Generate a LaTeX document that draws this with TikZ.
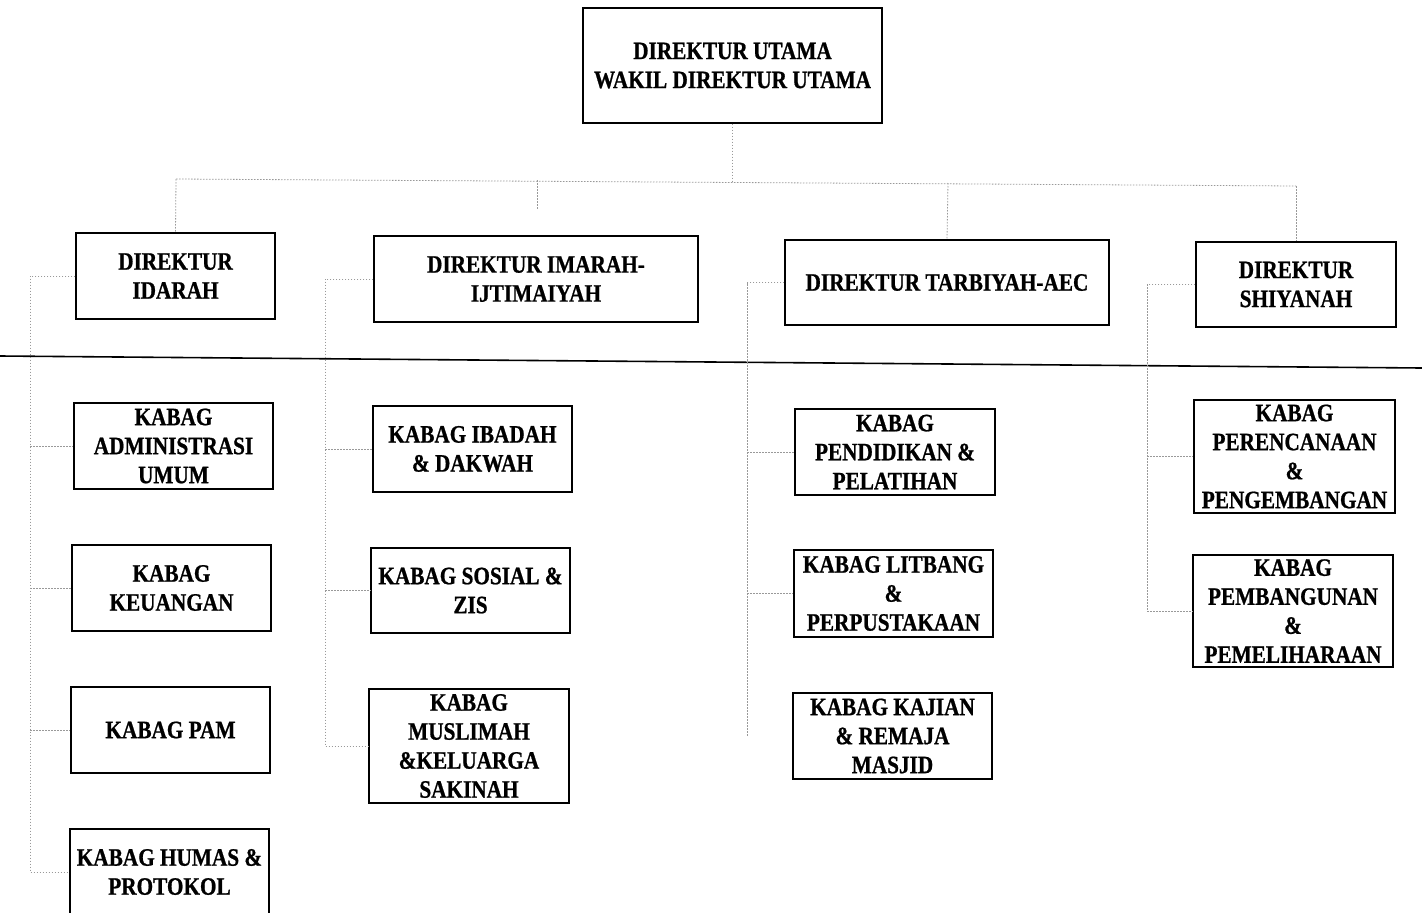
\documentclass[tikz,border=0pt]{standalone}
\usepackage{fontspec}
\newfontfamily\orgfont{Liberation Serif Bold}[FakeStretch=0.85, FakeBold=0.8]
\begin{document}
\begin{tikzpicture}[x=1pt,y=-1pt,
  box/.style={draw, line width=1.4pt, align=center, inner sep=0pt,
    font=\orgfont\fontsize{25}{29}\selectfont},
  conn/.style={draw=black!40, line width=0.8pt, dash pattern=on 1.5pt off 1.5pt},
  rule/.style={draw=black, line width=1.6pt}]
\useasboundingbox (0,0) rectangle (1422,913);
\fill[white] (0,0) rectangle (1422,913);

% top
\node[box, minimum width=299pt, minimum height=115pt] (top) at (732.5,65.5) {DIREKTUR UTAMA\\WAKIL DIREKTUR UTAMA};
% directors
\node[box, minimum width=199pt, minimum height=86pt] (idarah) at (175.5,276) {DIREKTUR\\IDARAH};
\node[box, minimum width=324pt, minimum height=86pt] (imarah) at (536,279) {DIREKTUR IMARAH-\\IJTIMAIYAH};
\node[box, minimum width=324pt, minimum height=85pt] (tarbiyah) at (947,282.5) {DIREKTUR TARBIYAH-AEC};
\node[box, minimum width=200pt, minimum height=85pt] (shiyanah) at (1296,284.5) {DIREKTUR\\SHIYANAH};
% column 1
\node[box, minimum width=199pt, minimum height=86pt] (adm) at (173.5,446) {KABAG\\ADMINISTRASI\\UMUM};
\node[box, minimum width=199pt, minimum height=86pt] (keu) at (171.5,588) {KABAG\\KEUANGAN};
\node[box, minimum width=199pt, minimum height=86pt] (pam) at (170.5,730) {KABAG PAM};
\node[box, minimum width=199pt, minimum height=86pt] (humas) at (169.5,872) {KABAG HUMAS \&\\PROTOKOL};
% column 2
\node[box, minimum width=199pt, minimum height=86pt] (ibadah) at (472.5,449) {KABAG IBADAH\\\& DAKWAH};
\node[box, minimum width=199pt, minimum height=85pt] (sosial) at (470.5,590.5) {KABAG SOSIAL \&\\ZIS};
\node[box, minimum width=200pt, minimum height=114pt] (muslimah) at (469,746) {KABAG\\MUSLIMAH\\\&KELUARGA\\SAKINAH};
% column 3
\node[box, minimum width=200pt, minimum height=86pt] (pendidikan) at (895,452) {KABAG\\PENDIDIKAN \&\\PELATIHAN};
\node[box, minimum width=199pt, minimum height=87pt] (litbang) at (893.5,593.5) {KABAG LITBANG\\\&\\PERPUSTAKAAN};
\node[box, minimum width=199pt, minimum height=86pt] (kajian) at (892.5,736) {KABAG KAJIAN\\\& REMAJA\\MASJID};
% column 4
\node[box, minimum width=201pt, minimum height=113pt] (perencanaan) at (1294.5,456.5) {KABAG\\PERENCANAAN\\\&\\PENGEMBANGAN};
\node[box, minimum width=200pt, minimum height=112pt] (pembangunan) at (1293,611) {KABAG\\PEMBANGUNAN\\\&\\PEMELIHARAAN};

% separator rule
\coordinate (rl) at (0,356);
\coordinate (rr) at (1422,368);
\draw[rule] (rl) -- (rr);

% bus from top
\coordinate (busL) at (176,179);
\coordinate (busM) at (732.5,181);
\coordinate (busI) at (537,180);
\coordinate (stubI) at (537,210);
\coordinate (busT) at (948,183);
\coordinate (busR) at (1296,186);
\draw[conn] (top.south) -- (busM);
\draw[conn] (busL) -- (busR);
\draw[conn] (busL) -- (idarah.north);
\draw[conn] (busI) -- (stubI);
\draw[conn] (busT) -- (tarbiyah.north);
\draw[conn] (busR) -- (shiyanah.north);

% Idarah branch
\coordinate (v1) at (30,276);
\draw[conn] (idarah.west) -- (v1) -- (v1 |- humas.west) -- (humas.west);
\draw[conn] (v1 |- adm.west) -- (adm.west);
\draw[conn] (v1 |- keu.west) -- (keu.west);
\draw[conn] (v1 |- pam.west) -- (pam.west);

% Imarah branch
\coordinate (v2) at (325,279);
\draw[conn] (imarah.west) -- (v2) -- (v2 |- muslimah.west) -- (muslimah.west);
\draw[conn] (v2 |- ibadah.west) -- (ibadah.west);
\draw[conn] (v2 |- sosial.west) -- (sosial.west);

% Tarbiyah branch
\coordinate (v3) at (747,282.5);
\draw[conn] (tarbiyah.west) -- (v3) -- (v3 |- kajian.west);
\draw[conn] (v3 |- pendidikan.west) -- (pendidikan.west);
\draw[conn] (v3 |- litbang.west) -- (litbang.west);

% Shiyanah branch
\coordinate (v4) at (1147,284.5);
\draw[conn] (shiyanah.west) -- (v4) -- (v4 |- pembangunan.west) -- (pembangunan.west);
\draw[conn] (v4 |- perencanaan.west) -- (perencanaan.west);
\end{tikzpicture}
\end{document}
